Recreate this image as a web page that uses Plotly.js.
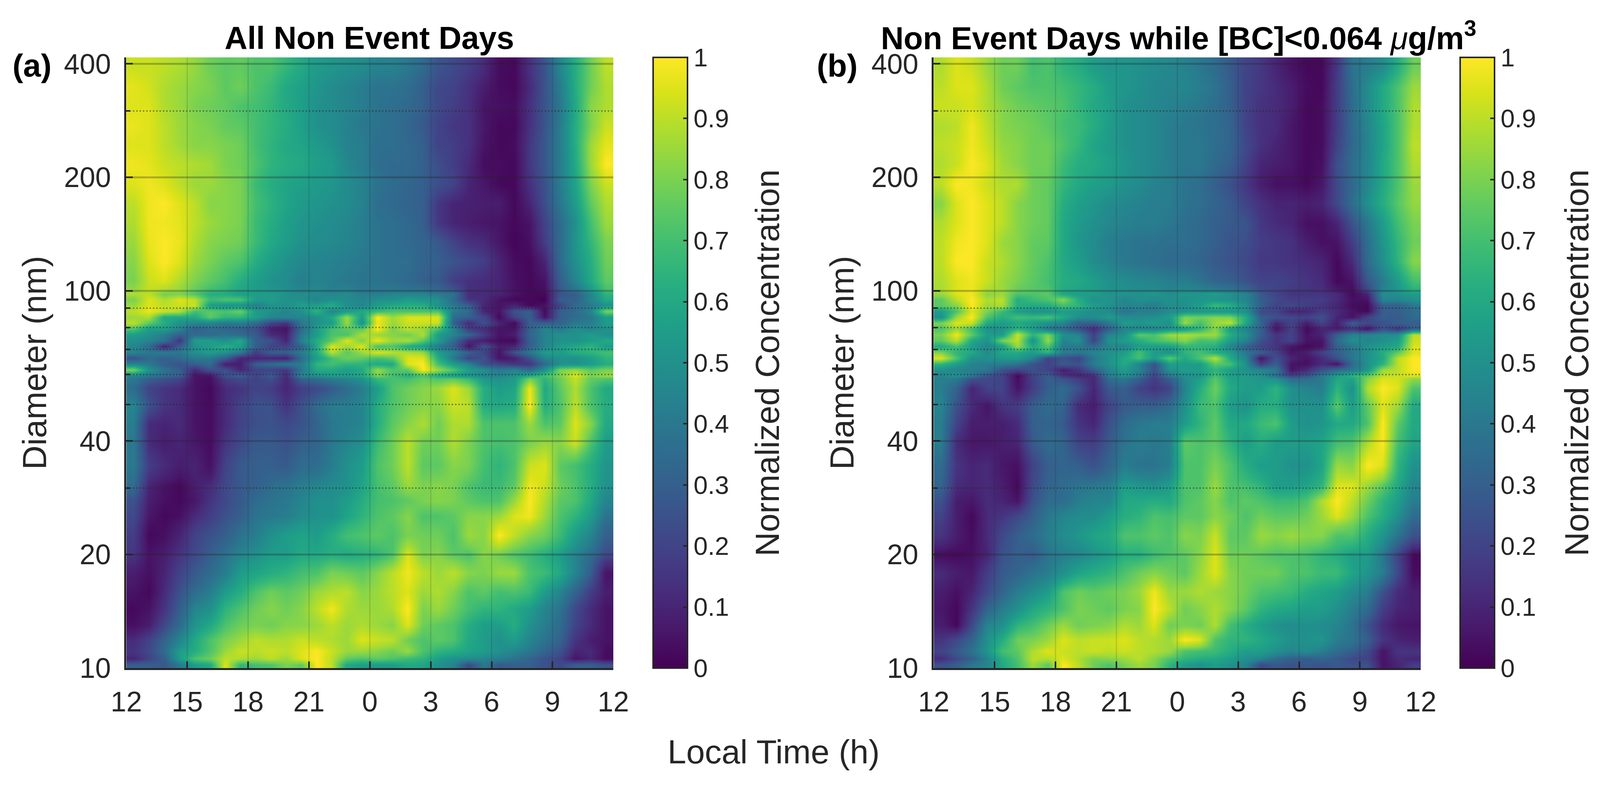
<!DOCTYPE html>
<html><head><meta charset="utf-8">
<script src="https://cdn.plot.ly/plotly-3.0.1.min.js"></script>
<style>html,body{margin:0;padding:0;background:#fff;overflow:hidden}</style>
</head><body><div id="g"></div>
<script>
const timeEdges=[0,0.75,1.5,2.25,3,3.75,4.5,5.25,6,6.75,7.5,8.25,9,9.75,10.5,11.25,12,12.75,13.5,14.25,15,15.75,16.5,17.25,18,18.75,19.5,20.25,21,21.75,22.5,23.25,24];
const diameterEdges=[10,10.4,10.8,11.4,12.4,13.6,15.1,16.8,19,21,24,26.5,29,32,37,42,47,52,58.5,60.6,62.8,65.1,67.5,69.9,72.5,75.1,77.9,80.7,83.6,86.7,89.8,93.1,96.5,100,112.6,126.8,142.7,160.7,180.9,203.7,229.4,258.3,290.8,327.5,368.7,416];
const xTickVals=[0,3,6,9,12,15,18,21,24];
const xTickText=['12','15','18','21','0','3','6','9','12'];
const yTickVals=[10,20,40,100,200,400];
const yMinorVals=[30,50,60,70,80,90,300];
const cbTicks=[0,0.1,0.2,0.3,0.4,0.5,0.6,0.7,0.8,0.9,1];
const cbText=['0','0.1','0.2','0.3','0.4','0.5','0.6','0.7','0.8','0.9','1'];
// Percent of normalized concentration, bottom row (10 nm) first
const concA=[
[30,30,28,40,55,60,95,65,70,72,80,75,100,90,60,55,55,55,60,58,50,45,22,40,28,30,30,25,22,30,30,25],
[10,20,30,55,72,78,90,88,85,90,85,95,100,90,75,72,75,72,68,65,55,50,48,45,42,38,32,25,20,5,10,3],
[15,22,35,55,62,72,85,92,90,92,90,95,100,92,85,85,82,78,85,72,65,62,58,55,50,45,40,32,25,10,12,3],
[12,20,32,45,60,72,80,85,90,88,88,92,90,88,85,95,92,90,78,72,75,72,60,55,50,55,45,38,32,15,8,5],
[4,8,22,35,52,60,72,78,80,78,82,82,85,90,85,88,85,82,95,78,75,72,62,55,55,62,50,42,35,20,12,5],
[2,5,15,30,45,50,65,72,78,82,78,82,90,98,88,85,85,88,100,80,85,78,70,65,65,60,55,45,38,22,12,5],
[5,2,12,25,35,42,55,62,72,78,75,78,85,88,90,82,85,90,95,85,88,82,72,75,70,72,68,55,45,32,18,8],
[8,4,10,20,28,35,42,55,58,62,65,70,72,80,78,75,82,90,98,90,85,90,82,80,85,85,72,68,60,45,30,5],
[15,5,8,15,22,30,38,45,50,55,55,60,60,62,60,62,65,72,95,80,82,75,72,82,78,72,68,62,55,45,35,22],
[18,2,4,10,20,25,30,38,42,50,55,58,55,62,70,72,75,72,80,78,78,72,85,82,100,90,82,78,68,55,45,30],
[22,6,2,4,12,18,25,30,38,40,42,48,50,50,58,65,72,75,82,72,72,75,82,82,85,95,98,85,72,65,55,38],
[25,8,4,2,6,15,22,28,35,38,40,45,50,50,55,62,70,72,75,80,82,80,75,72,72,85,100,88,75,72,60,45],
[35,10,5,2,8,12,22,28,30,35,38,42,45,48,50,58,70,75,85,80,82,80,72,68,68,75,98,92,78,72,62,50],
[40,18,12,8,10,4,20,28,30,30,28,35,35,42,50,55,72,78,90,75,75,82,80,70,65,72,92,95,75,70,62,52],
[40,12,8,10,6,3,15,22,28,28,25,30,32,40,45,50,68,78,90,78,78,88,80,72,70,72,80,85,82,92,72,55],
[42,12,10,12,5,3,12,20,24,25,22,25,32,40,42,45,62,75,82,88,78,88,88,72,72,72,85,72,75,95,82,60],
[45,25,15,12,5,3,12,20,25,25,15,25,35,42,42,45,62,72,78,82,82,92,90,62,60,62,100,62,72,90,72,62],
[35,20,15,12,5,2,12,15,20,18,10,18,22,28,35,42,55,72,78,82,85,95,85,62,55,58,98,60,75,88,72,60],
[45,40,35,30,5,5,25,30,20,30,12,45,50,55,55,60,80,70,62,72,60,55,50,45,45,50,60,70,80,95,80,85],
[80,50,38,30,12,25,25,10,20,20,15,40,60,60,55,60,85,72,75,100,85,72,55,50,40,45,35,50,80,85,75,80],
[45,40,30,25,30,35,8,8,30,35,40,42,65,70,65,65,60,60,95,100,70,55,45,25,20,15,15,35,50,50,55,62],
[25,35,30,35,40,40,30,10,10,10,8,35,55,70,78,75,70,75,95,95,62,40,20,25,5,8,25,45,50,50,55,65],
[45,40,42,40,50,55,50,40,18,30,30,42,60,90,75,85,95,90,88,85,55,45,30,20,5,25,40,55,55,62,65,70],
[45,35,8,30,50,55,62,55,30,20,20,30,60,95,85,95,70,72,60,55,40,30,5,25,8,10,30,45,55,60,65,55],
[50,45,38,15,55,55,50,60,30,25,10,45,62,75,95,80,98,85,88,75,55,35,12,8,3,2,30,45,50,50,55,60],
[55,50,42,30,35,35,38,35,28,12,8,40,55,72,72,88,85,82,78,88,55,45,32,18,5,8,32,45,50,50,55,50],
[72,55,55,45,30,35,32,30,25,8,5,35,55,70,75,75,100,80,90,85,70,45,18,12,5,5,30,45,40,50,45,50],
[90,75,62,50,45,45,40,42,35,20,15,40,50,55,85,50,98,85,92,92,92,30,12,25,10,2,30,30,32,40,42,55],
[85,88,60,60,60,75,65,65,55,45,45,45,50,60,85,55,100,85,95,95,95,35,30,22,2,20,30,5,30,35,40,55],
[90,97,92,88,70,75,72,78,55,50,45,50,65,45,55,60,68,72,72,72,72,42,35,10,5,25,30,2,30,35,45,80],
[85,95,90,92,92,55,50,50,42,50,50,55,55,62,50,45,55,60,62,62,50,40,30,10,5,10,2,5,20,35,40,50],
[80,95,88,95,90,68,72,72,55,55,50,50,45,50,48,45,50,50,55,52,50,35,15,12,5,2,2,0,30,30,45,60],
[88,90,78,80,72,62,60,55,55,55,50,48,48,45,48,42,42,45,45,45,40,38,12,12,10,5,2,2,25,30,45,65],
[80,92,95,88,80,75,70,62,55,50,48,42,45,42,40,38,38,36,34,30,28,18,14,12,10,4,2,5,30,45,60,75],
[82,95,100,95,85,80,75,72,62,55,50,46,45,44,42,40,38,36,36,32,30,26,22,18,10,3,2,10,35,50,62,78],
[85,97,100,97,88,82,80,78,68,60,55,50,48,47,45,42,38,36,34,32,28,20,14,12,6,1,4,18,35,52,66,80],
[88,98,98,96,90,85,82,80,68,62,56,52,50,48,46,42,38,36,34,30,16,10,8,6,5,2,5,20,35,50,70,85],
[90,98,100,95,90,82,82,80,70,64,58,54,52,50,48,44,36,34,32,30,16,10,9,8,8,2,10,24,40,55,75,88],
[95,98,95,90,85,85,82,80,68,62,58,56,54,52,48,44,38,35,33,30,24,20,10,6,2,2,14,25,42,58,80,92],
[98,96,92,90,88,86,80,78,72,65,62,60,56,54,46,42,36,34,34,30,24,18,12,3,3,2,16,28,42,60,85,100],
[95,95,90,86,82,82,80,78,70,65,60,58,54,50,44,42,36,36,34,30,20,18,14,5,2,3,16,28,42,62,85,96],
[97,95,90,85,82,80,76,75,70,66,62,56,50,48,44,40,38,36,33,28,20,16,14,6,2,2,14,26,42,62,80,92],
[95,95,88,85,80,78,76,72,70,66,60,56,50,48,45,42,38,36,34,30,22,18,14,5,4,3,14,26,40,60,82,88],
[96,93,88,85,82,80,75,78,72,68,60,56,52,48,45,42,38,38,36,30,22,20,14,8,3,2,12,26,42,62,78,88],
[92,92,90,88,84,78,75,76,72,72,66,60,54,52,50,48,44,44,40,34,26,22,18,12,3,2,14,26,46,62,78,90]
];
const concB=[
[25,30,40,45,60,70,85,75,100,90,78,72,80,85,80,65,55,50,55,50,45,22,28,25,28,25,28,25,25,5,10,18],
[12,22,30,45,62,72,90,88,95,88,80,82,85,90,82,72,65,62,60,55,50,45,35,30,28,32,28,22,20,5,12,10],
[20,28,38,52,70,75,88,95,92,90,92,90,92,90,88,85,72,70,68,62,55,55,50,45,48,42,35,30,22,5,15,15],
[15,22,32,50,62,78,80,85,95,90,92,92,95,90,88,85,100,95,72,65,65,60,55,50,50,52,42,38,30,15,10,8],
[8,2,22,45,50,65,70,78,85,78,80,82,88,85,95,78,80,78,88,70,62,55,50,48,50,48,45,38,25,12,6,5],
[6,2,15,32,42,50,60,65,72,80,78,75,80,82,100,90,78,82,88,82,75,65,60,58,55,55,50,42,35,18,10,8],
[8,4,10,22,32,42,48,55,72,78,75,78,80,85,98,85,85,88,85,82,78,72,70,68,62,58,55,48,42,25,12,8],
[12,8,6,18,28,32,38,42,50,58,62,65,72,78,82,78,75,85,95,82,78,78,78,72,72,68,68,58,52,42,22,3],
[3,2,4,10,25,30,28,38,42,45,50,55,62,62,68,72,75,82,95,78,78,75,72,72,70,65,62,55,55,40,20,2],
[15,8,3,12,22,30,35,42,48,52,58,60,72,72,75,72,82,80,92,75,75,85,82,85,82,82,72,72,62,52,38,25],
[20,8,2,12,15,22,30,40,45,48,48,55,62,65,72,70,75,75,82,78,72,78,75,75,78,85,95,85,72,62,50,35],
[25,8,6,12,10,5,25,35,35,42,45,45,60,60,62,60,72,75,82,72,75,72,68,68,72,88,100,90,78,65,55,42],
[32,12,10,12,8,2,22,32,35,38,40,42,55,52,50,55,72,72,85,72,70,65,55,55,58,65,95,95,85,75,60,45],
[35,15,10,12,6,4,20,30,32,30,25,32,42,38,38,42,72,72,80,72,62,55,55,50,50,58,85,82,100,95,65,50],
[42,12,6,6,8,10,28,35,32,20,18,28,38,42,40,42,75,72,75,65,55,62,55,55,55,58,70,72,88,100,70,58],
[42,20,8,8,8,12,30,32,28,15,10,25,35,40,42,42,55,65,75,60,60,68,72,55,50,52,60,60,72,100,75,60],
[45,25,12,5,15,18,30,35,32,12,8,20,28,30,30,35,50,68,72,55,50,62,62,50,50,50,75,55,75,95,85,60],
[42,32,10,20,20,5,18,30,35,25,10,28,30,20,15,20,45,62,78,60,55,55,65,50,45,42,65,50,88,100,95,72],
[45,50,40,25,20,2,20,30,15,10,12,42,50,40,20,40,50,50,70,55,55,50,35,20,25,40,55,65,75,90,92,95],
[50,45,42,40,25,20,25,20,8,15,30,45,55,45,25,50,55,55,65,55,50,45,40,5,12,25,35,40,52,85,90,100],
[65,55,45,42,42,38,25,20,28,25,42,50,60,45,25,55,55,55,75,70,50,18,30,5,4,12,5,35,50,65,90,100],
[95,72,50,50,52,55,45,20,25,20,40,50,60,70,55,75,60,72,90,60,45,5,25,10,5,12,25,40,50,60,90,100],
[80,65,60,48,60,60,55,65,42,40,45,50,55,70,55,50,65,70,62,55,40,30,20,5,8,20,30,40,50,62,75,95],
[60,70,55,45,55,85,60,72,40,40,35,45,45,55,55,55,65,65,62,45,30,20,15,5,2,5,30,40,50,55,60,95],
[75,90,60,50,80,90,50,85,45,50,20,50,55,62,70,75,82,70,72,55,45,25,15,20,5,5,35,50,45,50,55,92],
[80,98,75,55,55,92,65,80,50,45,20,45,50,75,72,85,88,85,85,62,50,30,15,20,5,10,30,45,45,48,50,90],
[72,85,70,50,50,65,55,40,35,25,12,30,45,45,45,50,55,65,82,55,45,30,5,20,2,10,8,15,5,25,15,30],
[80,95,92,60,55,60,55,50,45,30,30,40,55,52,55,50,85,70,85,90,60,32,10,20,8,20,8,30,22,25,30,30],
[50,85,100,72,62,70,68,72,60,50,48,55,48,48,50,55,80,78,82,80,62,30,25,22,20,25,10,5,20,30,28,35],
[55,72,95,80,68,55,50,50,55,52,48,48,38,42,42,48,50,52,52,52,50,22,20,10,10,18,12,5,2,30,30,35],
[75,82,100,85,88,62,60,62,70,65,55,50,45,45,42,48,50,55,68,62,50,30,20,22,18,15,10,3,2,30,30,40],
[75,90,100,88,90,62,68,72,82,62,50,52,45,50,48,50,50,52,52,50,45,30,22,18,18,18,12,4,5,45,45,50],
[85,95,98,82,85,72,72,75,58,55,55,50,52,50,52,48,52,52,55,50,45,28,20,15,15,15,12,2,10,48,50,55],
[88,95,98,92,85,80,75,70,62,60,55,50,48,46,45,42,42,38,32,30,25,20,20,18,15,12,2,5,28,42,55,70],
[90,100,100,92,88,82,76,72,60,55,48,44,40,38,36,34,34,32,28,25,22,16,16,14,12,10,2,12,35,50,65,82],
[90,98,100,95,85,82,76,75,60,52,48,42,40,38,38,36,36,34,30,26,24,18,16,14,8,4,5,18,36,52,66,78],
[88,95,100,95,90,82,78,76,60,54,50,46,44,42,42,40,36,34,30,28,26,16,12,10,4,4,10,26,40,55,70,80],
[82,95,100,95,90,82,78,76,62,56,52,48,46,44,42,42,38,36,32,28,20,14,10,10,8,10,22,36,50,62,74,84],
[90,100,98,92,88,88,78,76,66,60,56,54,50,48,44,42,38,36,30,24,16,8,4,4,2,6,22,34,46,60,72,85],
[88,92,100,95,86,82,78,78,68,62,60,56,52,48,46,42,40,40,34,30,20,10,8,6,2,4,24,36,46,60,72,88],
[90,92,98,92,84,82,78,78,72,66,58,54,50,48,46,42,40,40,36,32,22,14,10,6,2,3,20,34,45,58,72,90],
[88,90,98,90,82,80,78,75,70,68,62,55,50,48,46,42,40,38,36,32,20,14,12,6,2,3,18,34,46,58,72,88],
[92,92,94,88,82,78,76,74,72,66,60,56,50,48,46,44,42,40,36,30,20,14,12,8,2,3,18,35,48,60,72,88],
[90,95,95,88,78,75,72,72,70,66,62,55,52,50,46,45,46,42,38,30,20,16,12,8,3,2,18,36,48,60,72,85],
[88,95,92,85,78,78,70,72,65,62,55,52,52,50,48,46,44,40,35,28,20,16,10,5,2,2,16,38,42,48,62,78]
];
const gridMajorY=[20,40,100,200,400];
const gridMinorY=[30,50,60,70,80,90,300];
const gridX=[3,6,9,12,15,18,21];

const toFrac=m=>m.map(r=>r.map(v=>v/100));
const REFW=4205,H=window.innerHeight||2013;
const W=window.innerWidth||4205;
const k=W/REFW;
const plotTop=147,plotBot=1711;
const FONT='"Liberation Sans", Arial, sans-serif';
const INK='#262626';
const px=x=>x/REFW, py=y=>1-y/2013;

function heat(z,xa,ya,cbx){
  return {type:'heatmap',x:timeEdges,y:diameterEdges,z:toFrac(z),xaxis:xa,yaxis:ya,zmin:0,zmax:1,zsmooth:'best',
    colorscale:'Viridis',hoverinfo:'skip',
    colorbar:{x:px(cbx),xanchor:'left',y:py((plotTop+plotBot)/2),yanchor:'middle',
      len:(plotBot-plotTop)/2013,lenmode:'fraction',thickness:90*k,thicknessmode:'pixels',xpad:0,ypad:0,
      outlinecolor:INK,outlinewidth:4,bordercolor:'rgba(0,0,0,0)',borderwidth:0,
      tickmode:'array',tickvals:cbTicks,ticktext:cbText,ticks:'inside',ticklen:13,tickwidth:4,tickcolor:INK,
      tickprefix:'\u00A0\u00A0',
      tickfont:{family:FONT,size:67*k,color:INK}}};
}
function gridTraces(xa,ya){
  const t=[];
  gridMajorY.forEach(v=>t.push({type:'scatter',mode:'lines',x:[0,24],y:[v,v],xaxis:xa,yaxis:ya,showlegend:false,hoverinfo:'skip',
    line:{color:'rgba(38,38,38,0.3)',width:5}}));
  gridMinorY.forEach(v=>t.push({type:'scatter',mode:'lines',x:[0,24],y:[v,v],xaxis:xa,yaxis:ya,showlegend:false,hoverinfo:'skip',
    line:{color:'rgba(38,38,38,0.55)',width:3.5,dash:'3.5px,5px'}}));
  gridX.forEach(v=>t.push({type:'scatter',mode:'lines',x:[v,v],y:[10,416],xaxis:xa,yaxis:ya,showlegend:false,hoverinfo:'skip',
    line:{color:'rgba(38,38,38,0.16)',width:3}}));
  return t;
}
function xAxis(l,r,anchor){
  return {domain:[px(l),px(r)],anchor:anchor,range:[0,24],tickmode:'array',tickvals:xTickVals,ticktext:xTickText,
    ticks:'inside',ticklen:17,tickwidth:4,tickcolor:INK,showline:true,linewidth:5,linecolor:INK,showgrid:false,zeroline:false,
    tickfont:{family:FONT,size:74*k,color:INK},ticklabelstandoff:20};
}
function yAxis(anchor){
  return {domain:[py(plotBot),py(plotTop)],anchor:anchor,type:'log',range:[1,Math.log10(416)],
    tickmode:'array',tickvals:yTickVals,ticktext:yTickVals.map(String),
    minor:{tickmode:'array',tickvals:yMinorVals,ticks:'inside',ticklen:10,tickwidth:4,tickcolor:INK,showgrid:false},
    ticks:'inside',ticklen:17,tickwidth:4,tickcolor:INK,showline:true,linewidth:5,linecolor:INK,showgrid:false,zeroline:false,
    tickfont:{family:FONT,size:74*k,color:INK},ticklabelstandoff:20,
    title:{text:'Diameter (nm)',font:{family:FONT,size:88*k,color:INK},standoff:18}};
}
function note(text,x,y,size,opts){
  return Object.assign({xref:'paper',yref:'paper',x:px(x),y:py(y),xanchor:'center',yanchor:'middle',showarrow:false,
    text:text,font:{family:FONT,size:size*k,color:INK}},opts||{});
}
const layout={width:W,height:H,margin:{l:0,r:0,t:0,b:0,pad:0},paper_bgcolor:'#fff',plot_bgcolor:'#fff',showlegend:false,
  xaxis:xAxis(332,1612,'y'),yaxis:yAxis('x'),
  xaxis2:xAxis(2454,3734,'y2'),yaxis2:yAxis('x2'),
  annotations:[
    note('<b>All Non Event Days</b>',971,97,83,{font:{family:FONT,size:83*k,color:'#000'}}),
    note('<b>Non Event Days while [BC]&lt;0.064 </b><i>μ</i><b>g/m<sup>3</sup></b>',3097,92,83,{font:{family:FONT,size:83*k,color:'#000'}}),
    note('<b>(a)</b>',84,168,84,{font:{family:FONT,size:84*k,color:'#000'}}),
    note('<b>(b)</b>',2200,168,84,{font:{family:FONT,size:84*k,color:'#000'}}),
    note('Local Time (h)',2033,1925,88),
    note('Normalized Concentration',2016,929,88,{textangle:-90}),
    note('Normalized Concentration',4143,929,88,{textangle:-90})
  ]};
const data=[heat(concA,'x','y',1717),heat(concB,'x2','y2',3837)]
  .concat(gridTraces('x','y'),gridTraces('x2','y2'));
Plotly.newPlot('g',data,layout,{staticPlot:true,displayModeBar:false});
</script></body></html>
